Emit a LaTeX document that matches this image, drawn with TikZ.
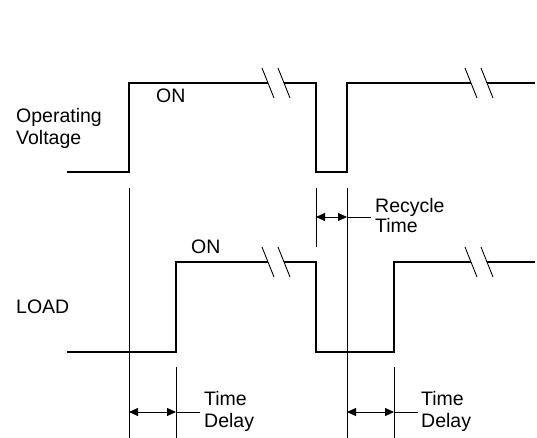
\documentclass[tikz,border=0pt]{standalone}
\usepackage{fontspec}
\setmainfont{Liberation Sans}
\usetikzlibrary{arrows.meta}
\begin{document}
\begin{tikzpicture}[x=1pt,y=-1pt,
  wave/.style={line width=1.8pt,line join=miter},
  marker/.style={line width=0.9pt},
  brk/.style={line width=0.9pt},
  dim/.style={line width=0.9pt,{Triangle[length=9pt,width=8pt]}-{Triangle[length=9pt,width=8pt]}},
  lbl/.style={font=\fontsize{19.5}{22}\selectfont,inner sep=0pt,anchor=base west}]
\useasboundingbox (0,0) rectangle (537,438);
% top waveform (operating voltage)
\coordinate (v0) at (67,172);
\coordinate (v1) at (129,172);
\coordinate (v2) at (129,83);
\coordinate (vb1) at (268,83);
\coordinate (vb2) at (284,83);
\coordinate (v3) at (316,83);
\coordinate (v4) at (316,172);
\coordinate (v5) at (347,172);
\coordinate (v6) at (347,83);
\coordinate (vb3) at (471,83);
\coordinate (vb4) at (487,83);
\coordinate (v7) at (535,83);
\draw[wave] (v0) -- (v1) -- (v2) -- (vb1);
\draw[wave] (vb2) -- (v3) -- (v4) -- (v5) -- (v6) -- (vb3);
\draw[wave] (vb4) -- (v7);
\draw[brk] ([xshift=-6pt,yshift=15pt]vb1) -- ([xshift=6pt,yshift=-15pt]vb1);
\draw[brk] ([xshift=-6pt,yshift=15pt]vb2) -- ([xshift=6pt,yshift=-15pt]vb2);
\draw[brk] ([xshift=-6pt,yshift=15pt]vb3) -- ([xshift=6pt,yshift=-15pt]vb3);
\draw[brk] ([xshift=-6pt,yshift=15pt]vb4) -- ([xshift=6pt,yshift=-15pt]vb4);
% load waveform
\coordinate (l0) at (67,352);
\coordinate (l1) at (176,352);
\coordinate (l2) at (176,262);
\coordinate (lb1) at (268,262);
\coordinate (lb2) at (284,262);
\coordinate (l3) at (316,262);
\coordinate (l4) at (316,352);
\coordinate (l5) at (394,352);
\coordinate (l6) at (394,262);
\coordinate (lb3) at (471,262);
\coordinate (lb4) at (487,262);
\coordinate (l7) at (535,262);
\draw[wave] (l0) -- (l1) -- (l2) -- (lb1);
\draw[wave] (lb2) -- (l3) -- (l4) -- (l5) -- (l6) -- (lb3);
\draw[wave] (lb4) -- (l7);
\draw[brk] ([xshift=-6pt,yshift=15pt]lb1) -- ([xshift=6pt,yshift=-15pt]lb1);
\draw[brk] ([xshift=-6pt,yshift=15pt]lb2) -- ([xshift=6pt,yshift=-15pt]lb2);
\draw[brk] ([xshift=-6pt,yshift=15pt]lb3) -- ([xshift=6pt,yshift=-15pt]lb3);
\draw[brk] ([xshift=-6pt,yshift=15pt]lb4) -- ([xshift=6pt,yshift=-15pt]lb4);
% marker lines
\coordinate (m1t) at (129,188); \coordinate (m1b) at (129,438);
\coordinate (m2t) at (316,188); \coordinate (m2b) at (316,247);
\coordinate (m3t) at (347,188); \coordinate (m3b) at (347,438);
\coordinate (m4t) at (176,367); \coordinate (m4b) at (176,438);
\coordinate (m5t) at (394,367); \coordinate (m5b) at (394,438);
\draw[marker] (m1t) -- (m1b);
\draw[marker] (m2t) -- (m2b);
\draw[marker] (m3t) -- (m3b);
\draw[marker] (m4t) -- (m4b);
\draw[marker] (m5t) -- (m5b);
% dimension arrows
\coordinate (r1) at (316,217); \coordinate (r2) at (347,217); \coordinate (r3) at (371,217);
\draw[dim] (r1) -- (r2);
\draw[marker] (r2) -- (r3);
\coordinate (d1) at (129,412); \coordinate (d2) at (176,412); \coordinate (d3) at (200,412);
\draw[dim] (d1) -- (d2);
\draw[marker] (d2) -- (d3);
\coordinate (e1) at (347,412); \coordinate (e2) at (394,412); \coordinate (e3) at (418,412);
\draw[dim] (e1) -- (e2);
\draw[marker] (e2) -- (e3);
% labels
\node[lbl] (opa) at (16,123) {Operating};
\node[lbl] (opb) at (16,145) {Voltage};
\node[lbl] (on1) at (156,103) {ON};
\node[lbl] (on2) at (191,253) {ON};
\node[lbl] (load) at (16,313) {LOAD};
\node[lbl] (rca) at (375,212) {Recycle};
\node[lbl] (rcb) at (375,232) {Time};
\node[lbl] (tda) at (204,405) {Time};
\node[lbl] (tdb) at (204,427) {Delay};
\node[lbl] (tea) at (421,405) {Time};
\node[lbl] (teb) at (421,427) {Delay};
\end{tikzpicture}
\end{document}
